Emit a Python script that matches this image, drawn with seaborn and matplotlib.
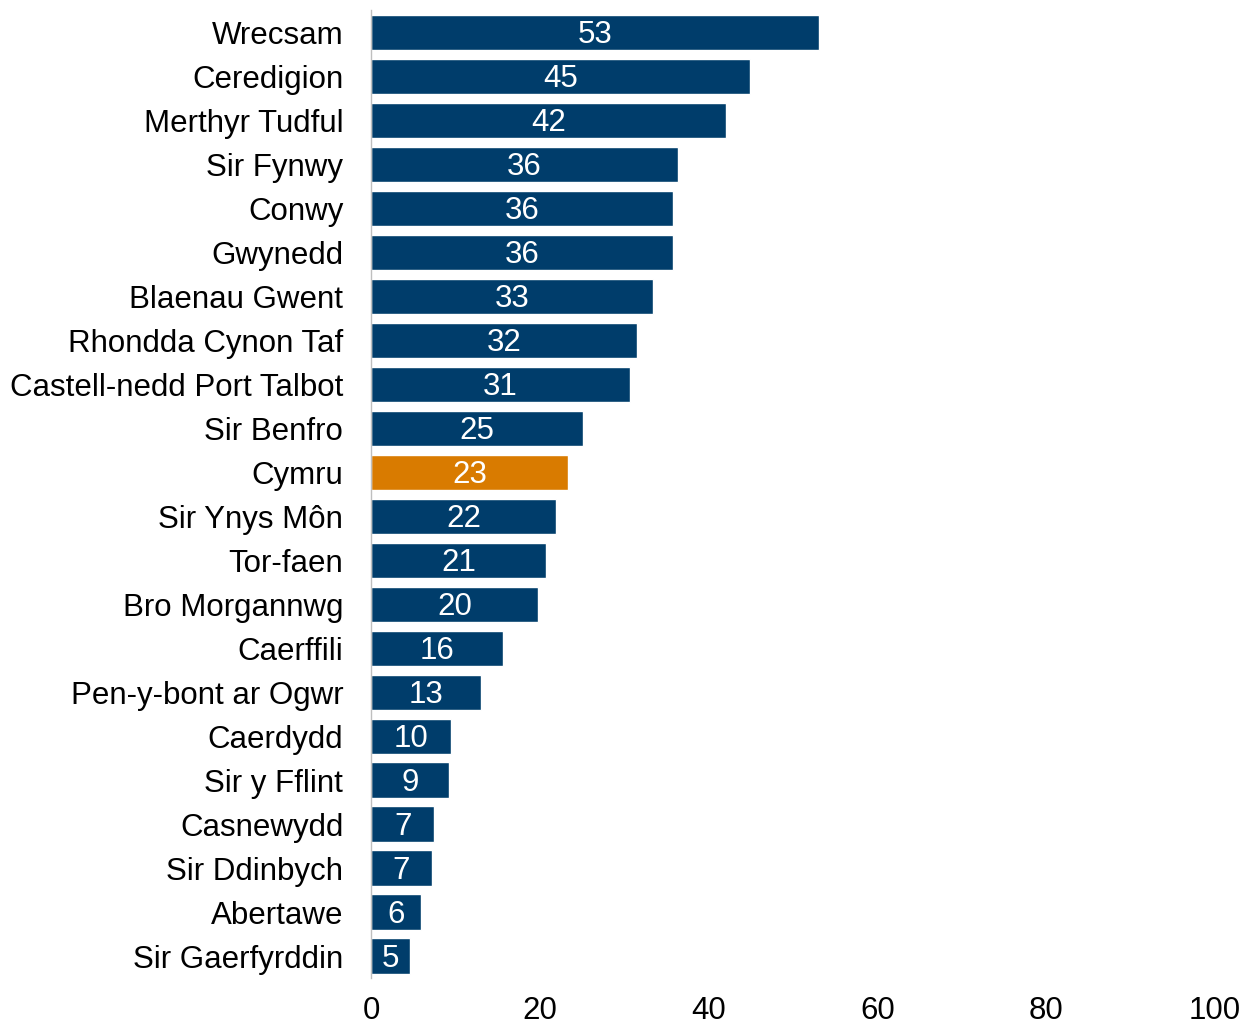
import matplotlib
matplotlib.use('Agg')
import matplotlib.pyplot as plt
import seaborn as sns
import pandas as pd

areas = ["Wrecsam", "Ceredigion", "Merthyr Tudful", "Sir Fynwy", "Conwy", "Gwynedd",
         "Blaenau Gwent", "Rhondda Cynon Taf", "Castell-nedd Port Talbot", "Sir Benfro",
         "Cymru", "Sir Ynys Môn", "Tor-faen", "Bro Morgannwg", "Caerffili",
         "Pen-y-bont ar Ogwr", "Caerdydd", "Sir y Fflint", "Casnewydd", "Sir Ddinbych",
         "Abertawe", "Sir Gaerfyrddin"]
values = [53.1, 44.9, 42.1, 36.4, 35.8, 35.8, 33.4, 31.5, 30.7, 25.1, 23.3, 21.9,
          20.7, 19.8, 15.6, 13.0, 9.5, 9.2, 7.5, 7.2, 5.9, 4.6]
labels = ["53", "45", "42", "36", "36", "36", "33", "32", "31", "25", "23", "22",
          "21", "20", "16", "13", "10", "9", "7", "7", "6", "5"]
ticks = [0, 20, 40, 60, 80, 100]

blue = "#003D6B"
orange = "#D97B00"

df = pd.DataFrame({"area": areas, "value": values})
palette = {a: (orange if a == "Cymru" else blue) for a in areas}

sns.set_style("white")
plt.rcParams['font.family'] = ['Liberation Sans', 'DejaVu Sans']

fig = plt.figure(figsize=(12.43, 10.28), dpi=100)
ax = fig.add_axes([0.2985, 0.0486, 0.679, 0.9414])

sns.barplot(data=df, x="value", y="area", hue="area", palette=palette,
            order=areas, width=0.8, legend=False, ax=ax, saturation=1)

for i, (v, lab) in enumerate(zip(values, labels)):
    ax.text(v / 2, i + 0.06, lab, ha="center", va="center", color="white", fontsize=22.5)

ax.set_xlim(0, 100)
ax.set_ylim(len(areas) - 0.5, -0.5)
ax.set_xticks(ticks)
ax.set_xticklabels([str(t) for t in ticks], fontsize=22.5)
ax.tick_params(axis="y", labelsize=22.5, length=0, pad=20, labelcolor="black")
ax.tick_params(axis="x", length=0, pad=13, labelcolor="black")
ax.set_xlabel("")
ax.set_ylabel("")
for s in ["top", "right", "bottom"]:
    ax.spines[s].set_visible(False)
ax.spines["left"].set_color("#BFBFBF")
ax.spines["left"].set_linewidth(1)

fig.savefig("out.png", dpi=100)
